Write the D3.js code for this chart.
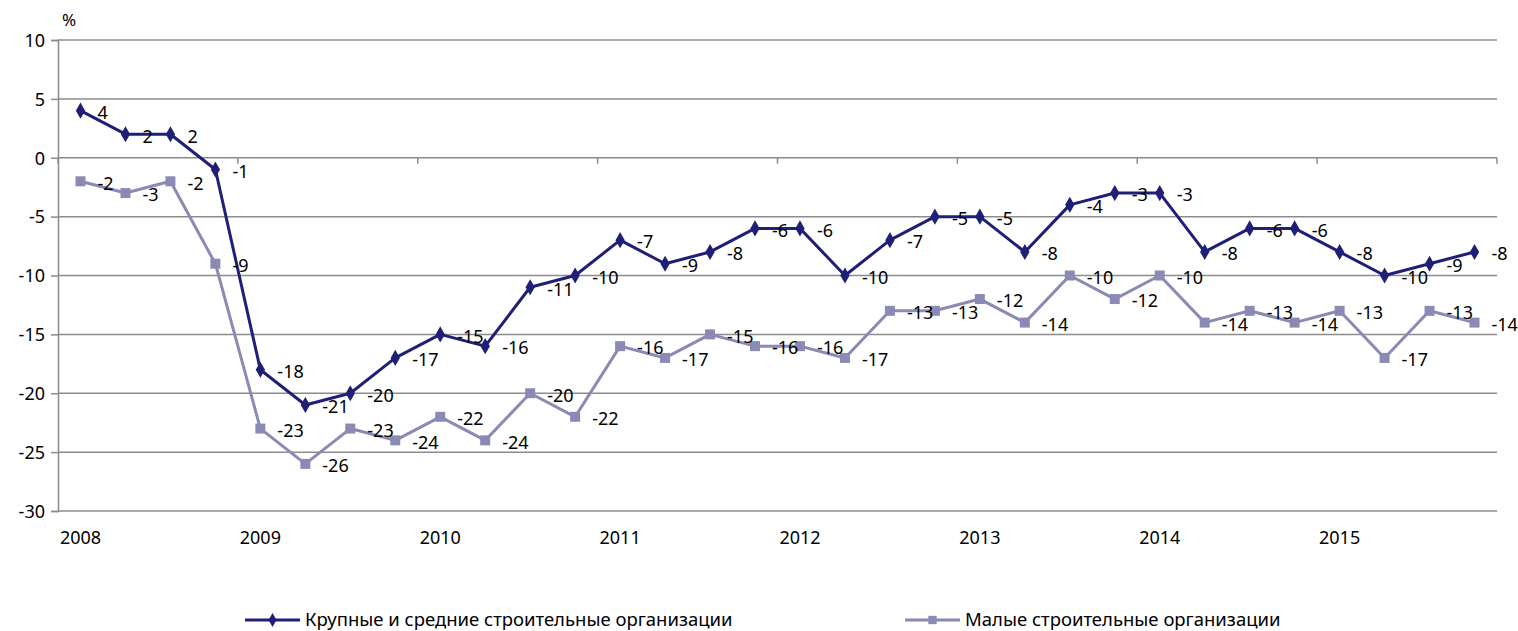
<!DOCTYPE html>
<html>
<head>
<meta charset="utf-8">
<script src="https://cdn.jsdelivr.net/npm/d3@7"></script>
<style>
  body { margin: 0; background: #fff; }
  text { font-family: "Noto Sans", "Open Sans", sans-serif; fill: #000; }
</style>
</head>
<body>
<script>
// data: quarterly balance, %
var years = ['2008', '2009', '2010', '2011', '2012', '2013', '2014', '2015'];
var quarters = ['I', 'II', 'III', 'IV'];
var bigOrgs = [4, 2, 2, -1, -18, -21, -20, -17, -15, -16, -11, -10, -7, -9, -8, -6,
               -6, -10, -7, -5, -5, -8, -4, -3, -3, -8, -6, -6, -8, -10, -9, -8];
var smallOrgs = [-2, -3, -2, -9, -23, -26, -23, -24, -22, -24, -20, -22, -16, -17, -15, -16,
                 -16, -17, -13, -13, -12, -14, -10, -12, -10, -14, -13, -14, -13, -17, -13, -14];
var seriesNames = ['Крупные и средние строительные организации', 'Малые строительные организации'];
var yTicks = [10, 5, 0, -5, -10, -15, -20, -25, -30];

var W = 1518, H = 631;
var margin = {top: 40, right: 21, bottom: 120, left: 58};
var w = W - margin.left - margin.right;
var h = 511 - margin.top;

var darkColor = '#1f1f78';
var lightColor = '#8a8ab4';
var fontSize = '18px';

var svg = d3.select('body').append('svg')
            .attr('width', W)
            .attr('height', H);

// category keys: year + quarter
var cats = [];
years.forEach(function(y) {
  quarters.forEach(function(q) { cats.push(y + '-' + q); });
});

var xScale = d3.scaleBand().domain(cats).range([0, w]);
var yScale = d3.scaleLinear().domain([-30, 10]).range([h, 0]);
var cx = function(i) { return xScale(cats[i]) + xScale.bandwidth() / 2; };

var focus = svg.append('g')
               .attr('transform', 'translate(' + margin.left + ',' + margin.top + ')');

// gridlines
focus.selectAll('.grid')
     .data(yTicks)
     .enter()
     .append('line')
     .attr('x1', 0)
     .attr('x2', w)
     .attr('y1', function(d) { return yScale(d); })
     .attr('y2', function(d) { return yScale(d); })
     .attr('stroke', '#8c8c8c')
     .attr('stroke-width', 1.5);

// y axis
var yAxis = focus.append('g')
                 .call(d3.axisLeft(yScale).tickValues(yTicks).tickSize(7).tickPadding(6)
                         .tickFormat(function(d) { return String(d); }));
yAxis.select('.domain').attr('stroke', '#8c8c8c').attr('stroke-width', 1.5);
yAxis.selectAll('.tick line').attr('stroke', '#8c8c8c').attr('stroke-width', 1.5);
yAxis.selectAll('text').style('font-size', fontSize).attr('font-family', '"Noto Sans", sans-serif');
yAxis.selectAll('.tick text').attr('fill', '#000').attr('dy', '0.35em');

// category axis sits on zero, tick marks at year boundaries
var yearStarts = d3.range(0, cats.length + 1, 4);
focus.selectAll('.xtick')
     .data(yearStarts)
     .enter()
     .append('line')
     .attr('x1', function(d) { return d * xScale.step(); })
     .attr('x2', function(d) { return d * xScale.step(); })
     .attr('y1', yScale(0))
     .attr('y2', yScale(0) + 6)
     .attr('stroke', '#8c8c8c')
     .attr('stroke-width', 1.5);

// year labels at the bottom
focus.selectAll('.year')
     .data(years)
     .enter()
     .append('text')
     .attr('x', function(d, i) { return cx(i * 4); })
     .attr('y', h + 27)
     .attr('dy', '0.35em')
     .attr('text-anchor', 'middle')
     .style('font-size', fontSize)
     .text(function(d) { return d; });

// unit label
svg.append('text')
   .attr('x', 69)
   .attr('y', 20)
   .attr('dy', '0.35em')
   .attr('text-anchor', 'middle')
   .style('font-size', '17px')
   .text('%');

var line = d3.line()
             .x(function(d, i) { return cx(i); })
             .y(function(d) { return yScale(d); });

function drawSeries(data, color, shape, size) {
  var g = focus.append('g');
  g.append('path')
   .datum(data)
   .attr('fill', 'none')
   .attr('stroke', color)
   .attr('stroke-width', 3)
   .attr('stroke-linejoin', 'round')
   .attr('d', line);
  g.selectAll('.mark')
   .data(data)
   .enter()
   .append('path')
   .attr('transform', function(d, i) { return 'translate(' + cx(i) + ',' + yScale(d) + ')'; })
   .attr('d', d3.symbol().type(shape).size(size))
   .attr('fill', color);
  return g;
}

// light series first so the dark one sits on top
var gSmall = drawSeries(smallOrgs, lightColor, d3.symbolSquare, 100);
var gBig = drawSeries(bigOrgs, darkColor, d3.symbolDiamond, 75);

// value labels
function drawLabels(data) {
  focus.append('g')
       .selectAll('text')
       .data(data)
       .enter()
       .append('text')
       .attr('x', function(d, i) { return cx(i) + 17; })
       .attr('y', function(d) { return yScale(d) + 2; })
       .attr('dy', '0.35em')
       .style('font-size', fontSize)
       .text(function(d) { return d; });
}
drawLabels(smallOrgs);
drawLabels(bigOrgs);

// legend
var legend = svg.append('g').attr('transform', 'translate(0,620)');
var legendItems = [
  {x: 245, color: darkColor, shape: d3.symbolDiamond, size: 55, name: seriesNames[0]},
  {x: 905, color: lightColor, shape: d3.symbolSquare, size: 70, name: seriesNames[1]}
];
legendItems.forEach(function(it) {
  legend.append('line')
        .attr('x1', it.x).attr('x2', it.x + 55)
        .attr('y1', 0).attr('y2', 0)
        .attr('stroke', it.color)
        .attr('stroke-width', 3);
  legend.append('path')
        .attr('transform', 'translate(' + (it.x + 27.5) + ',0)')
        .attr('d', d3.symbol().type(it.shape).size(it.size))
        .attr('fill', it.color);
  legend.append('text')
        .attr('x', it.x + 60)
        .attr('y', 0)
        .attr('dy', '0.35em')
        .style('font-size', '18.5px')
        .text(it.name);
});
</script>
</body>
</html>
